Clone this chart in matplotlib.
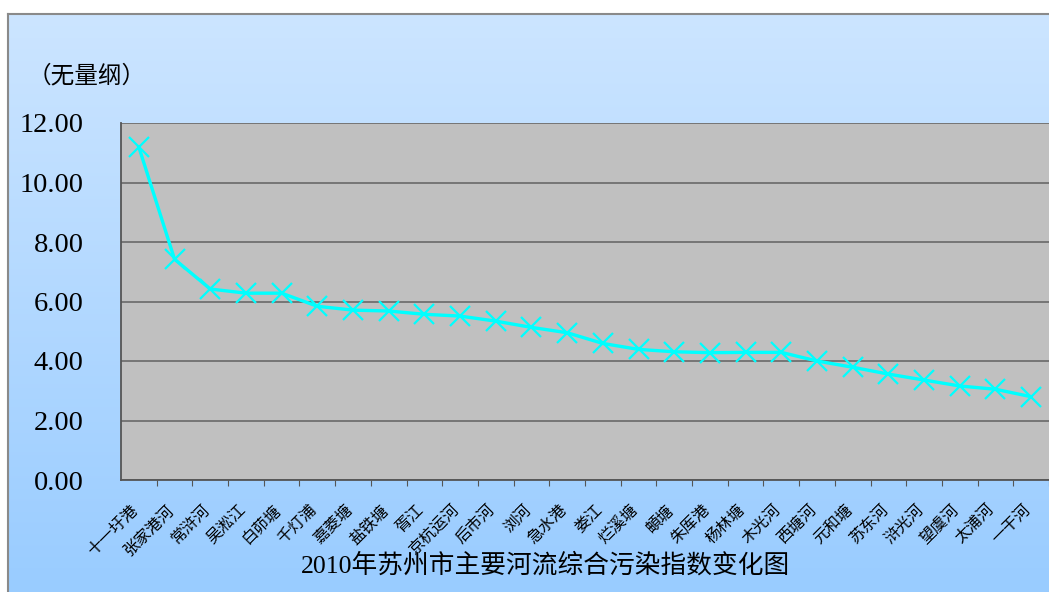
import numpy as np
import matplotlib
matplotlib.use("Agg")
from matplotlib import pyplot as plt

plt.rcParams['font.family'] = ['Liberation Serif', 'Noto Sans CJK SC']

rivers = ["十一圩港", "张家港河", "常浒河", "吴淞江", "白茆塘", "千灯浦", "嘉菱塘",
          "盐铁塘", "胥江", "京杭运河", "后市河", "浏河", "急水港", "娄江", "烂溪塘",
          "頔塘", "朱厍港", "杨林塘", "木光河", "西塘河", "元和塘", "苏东河", "浒光河",
          "望虞河", "太浦河", "一干河"]
index = [11.19, 7.42, 6.42, 6.28, 6.28, 5.84, 5.71, 5.68, 5.57, 5.51, 5.34, 5.13,
         4.95, 4.59, 4.39, 4.31, 4.28, 4.29, 4.29, 4.00, 3.79, 3.56, 3.36, 3.16,
         3.05, 2.80]
yticks = [0, 2, 4, 6, 8, 10, 12]

W, H = 1049, 592
fig = plt.figure(figsize=(W / 100, H / 100), dpi=100)
fig.patch.set_facecolor("white")

# gradient chart area behind everything
bg = fig.add_axes([8 / W, 0, 1 - 8 / W, 1 - 14 / H], zorder=0)
top = np.array([204, 229, 255]) / 255
bot = np.array([153, 204, 255]) / 255
t = np.linspace(0, 1, 256)[:, None]
grad = (top * (1 - t) + bot * t)[:, None, :]
bg.imshow(grad, aspect="auto", extent=[0, 1, 0, 1])
bg.set_xlim(0, 1)
bg.set_ylim(0, 1)
bg.set_xticks([])
bg.set_yticks([])
for s in ["right", "bottom"]:
    bg.spines[s].set_visible(False)
for s in ["top", "left"]:
    bg.spines[s].set_color("#8a8a8a")
    bg.spines[s].set_linewidth(1.5)

ax = fig.add_axes([121 / W, 1 - 480 / H, (W - 121) / W, (480 - 123) / H], zorder=1)
ax.set_facecolor("#c0c0c0")
x = np.arange(len(rivers))
ax.plot(x, index, color="#00ffff", lw=2.4, marker="x", ms=15, mew=1.6, zorder=3)

ax.set_xlim(-0.5, len(rivers) - 0.5)
ax.set_ylim(0, 12)
ax.set_yticks(yticks)
ax.set_yticklabels(["%.2f" % v for v in yticks], fontsize=20.5)
ax.tick_params(axis="y", length=0, pad=27)
ax.yaxis.grid(True, color="#707070", lw=1.3)
ax.set_axisbelow(True)

ax.set_xticks(x + 0.5, minor=False)
ax.set_xticklabels([])
ax.tick_params(axis="x", direction="out", length=4, color="#555555")
for i, name in enumerate(rivers):
    ax.text(i - 0.25, -0.72, name, rotation=45, ha="right", va="top",
            rotation_mode="anchor", fontsize=11.5, family=['Noto Sans CJK SC'],
            transform=ax.transData, clip_on=False)

for s in ["top", "right"]:
    ax.spines[s].set_visible(False)
for s in ["left", "bottom"]:
    ax.spines[s].set_color("#555555")
    ax.spines[s].set_linewidth(1.3)

fig.text(28 / W, 1 - 76 / H, "（无量纲）", fontsize=17, va="center", ha="left",
         family=['Noto Sans CJK SC'])
fig.text(545 / W, 1 - 565 / H, "2010年苏州市主要河流综合污染指数变化图",
         fontsize=18.5, ha="center", va="center")

fig.savefig("out.png", dpi=100)
plt.close()
